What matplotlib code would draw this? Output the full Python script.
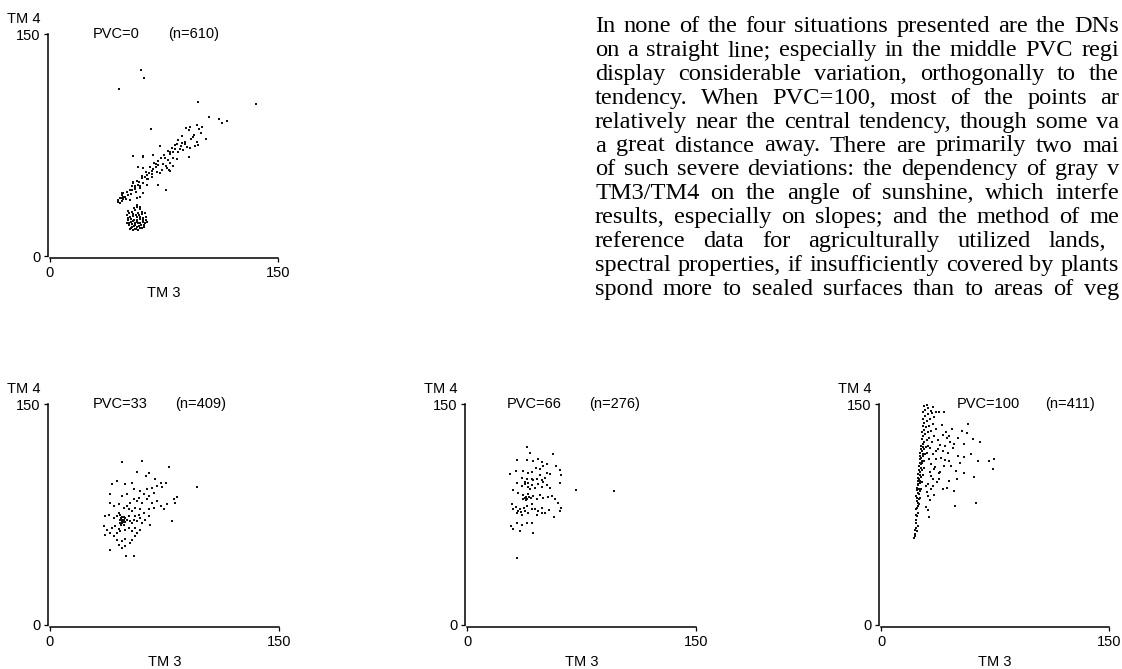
import matplotlib
matplotlib.use('Agg')
import matplotlib.pyplot as plt

# DN pairs (TM3, TM4)
pvc0_pts = [
    (59.9, 125.7), (61.8, 120.5), (45.6, 112.6), (97.6, 104.3), (135.5, 102.7), (104.8, 94.1),
    (111.4, 92.6), (113.4, 90.1), (116.2, 91.4), (66.4, 85.6),
    (96.5, 88.3), (89.5, 86.7), (92.1, 87.4), (91.2, 85.1), (99.3, 83.3), (102.4, 79.3), (94.3, 80.6),
    (84.4, 78.4), (86.6, 76.6), (88.8, 77.2), (83.3, 75.7), (96.5, 77.2), (97.6, 75.0), (95.4, 74.3),
    (92.1, 72.8), (90.3, 73.4), (87.7, 71.6), (85.5, 72.1), (72.4, 74.3), (80.0, 72.8), (81.1, 70.5),
    (78.9, 70.5), (77.8, 71.2), (82.2, 72.1), (91.6, 67.1), (54.4, 67.6), (61.4, 67.1), (68.0, 68.2),
    (75.7, 66.0), (77.8, 64.9), (81.1, 66.0), (83.8, 65.3), (78.9, 62.6), (76.3, 60.8), (74.1, 62.2),
    (81.1, 60.8), (77.2, 59.2), (78.5, 58.1), (71.3, 61.5), (69.7, 59.9), (68.0, 58.6), (70.2, 57.0),
    (66.9, 55.4), (65.3, 56.3), (64.0, 54.7), (72.4, 55.9), (73.5, 58.1), (58.1, 60.3), (61.4, 59.2),
    (78.9, 57.6), (62.5, 53.6), (60.3, 52.5), (64.7, 51.8), (66.9, 53.6), (57.0, 50.9), (54.8, 49.1),
    (53.7, 47.3), (58.1, 48.0), (61.4, 49.1), (59.2, 45.7), (55.9, 45.0), (52.6, 44.6), (50.4, 43.4),
    (48.2, 42.8), (47.1, 41.2), (49.3, 40.1), (51.5, 41.2), (46.5, 39.0), (48.2, 38.3), (76.3, 44.6),
    (71.3, 48.0), (45.0, 37.8), (46.0, 39.0), (48.2, 40.1), (47.1, 42.3), (50.4, 43.5), (49.3, 40.1),
    (51.5, 41.2), (53.7, 44.6), (55.9, 46.8), (52.6, 37.8), (57.0, 39.0), (59.2, 40.1), (54.8, 50.2),
    (63.6, 48.0), (61.4, 42.3), (61.4, 67.8),
    (56.0, 47.5), (58.5, 50.0), (60.5, 54.0), (63.0, 57.0), (66.0, 60.0), (68.5, 63.0), (71.0, 64.0),
    (73.0, 66.0), (75.0, 68.5), (79.0, 69.0), (84.0, 70.0), (86.0, 74.0), (89.0, 75.5), (93.0, 79.0),
    (95.0, 82.0), (98.0, 85.5), (100.0, 87.0), (87.0, 81.0), (82.0, 75.0), (70.0, 62.0), (67.0, 57.5),
    (63.5, 52.0), (59.5, 47.0), (56.5, 43.5), (53.0, 42.0), (50.0, 38.5), (47.5, 37.2), (44.5, 36.5),
    (46.0, 35.8),
    (57.0, 34.5), (59.2, 32.9), (51.5, 30.6), (53.7, 30.0), (55.9, 31.1), (58.1, 29.3), (60.3, 30.0),
    (62.5, 28.8), (50.4, 27.7), (52.6, 26.6), (54.8, 27.0), (57.0, 26.1), (59.2, 26.6), (61.4, 25.5),
    (63.2, 24.3), (51.5, 24.3), (53.1, 23.2), (54.4, 23.9), (55.9, 22.5), (57.5, 23.2), (59.2, 22.5),
    (61.0, 23.2), (62.5, 22.1), (52.2, 20.9), (53.7, 19.8), (55.3, 20.3), (57.0, 19.4), (58.8, 20.3),
    (60.3, 18.9), (61.8, 19.8), (52.6, 18.0), (54.4, 17.6), (55.9, 18.5), (58.1, 17.6), (63.6, 23.2),
    (50.4, 22.5), (53.0, 25.0), (55.0, 24.5), (57.0, 24.0), (59.0, 25.0), (61.0, 26.0), (56.0, 21.0),
    (58.0, 22.0), (60.0, 21.0), (54.0, 21.5), (52.0, 22.5), (62.0, 21.0), (56.5, 27.5), (58.5, 28.0),
    (54.5, 28.5), (60.5, 28.5), (52.0, 29.0), (57.5, 33.0), (55.0, 32.5), (59.5, 31.5), (53.5, 19.0),
    (56.5, 18.5), (59.5, 19.0), (61.5, 24.5), (63.0, 26.5), (51.0, 25.5),
]

pvc33_pts = [
    (47.1, 110.7), (60.3, 111.4), (77.9, 107.3), (57.0, 103.9), (63.2, 101.1), (64.7, 102.9), (69.1, 99.3),
    (72.4, 96.6), (75.7, 96.1), (73.5, 93.9), (70.2, 94.3), (40.6, 95.5), (43.9, 97.7), (49.3, 95.5),
    (53.7, 96.6), (96.0, 93.9), (54.8, 92.0), (59.2, 90.9), (63.6, 92.0), (66.9, 93.2), (39.5, 88.6),
    (47.1, 87.5), (50.4, 88.6), (61.4, 88.6), (64.7, 87.5), (68.0, 89.8), (83.3, 87.0), (82.2, 83.0),
    (81.1, 85.2), (54.8, 85.2), (57.0, 84.1), (60.3, 83.0), (58.1, 86.4), (52.6, 83.0), (63.6, 85.2),
    (66.9, 83.0), (70.2, 84.1), (72.4, 80.7), (68.0, 79.5), (64.7, 78.4), (76.8, 81.8), (74.6, 78.4),
    (80.0, 70.9), (39.5, 83.0), (41.7, 80.7), (45.0, 81.8), (48.2, 79.5), (50.4, 80.7), (51.5, 78.4),
    (53.7, 77.3), (55.9, 79.5), (59.2, 78.4), (61.4, 76.1), (36.2, 73.9), (38.4, 75.0), (41.7, 72.7),
    (43.9, 73.9), (46.1, 75.0), (45.0, 76.1), (46.5, 72.7), (47.8, 71.6), (48.7, 73.4), (47.1, 70.5),
    (49.3, 69.8), (48.2, 68.2), (46.1, 69.3), (50.4, 71.6), (51.5, 73.9), (52.6, 70.5), (53.7, 68.9),
    (54.8, 71.6), (55.9, 73.9), (57.0, 70.5), (58.1, 75.0), (59.2, 72.7), (60.3, 69.3), (62.5, 71.6),
    (64.7, 73.9), (65.8, 68.2), (35.1, 67.0), (37.3, 64.8), (40.6, 65.9), (42.8, 67.5), (45.0, 65.2),
    (39.5, 62.5), (36.2, 61.4), (41.7, 60.2), (43.9, 62.5), (46.1, 63.6), (49.3, 64.8), (51.5, 65.9),
    (53.7, 63.6), (55.9, 65.9), (57.0, 62.5), (59.2, 64.8), (43.9, 58.0), (47.1, 56.8), (49.3, 58.4),
    (52.6, 55.7), (45.0, 54.5), (49.3, 53.4), (47.1, 52.3), (39.5, 51.1), (53.7, 58.0), (55.9, 60.2),
    (50.0, 47.0), (54.8, 47.0), (46.8, 72.0), (48.0, 69.8), (47.4, 68.9), (45.6, 71.1), (49.1, 72.3),
    (46.3, 68.2), (47.5, 70.8), (48.5, 71.0), (46.9, 73.0),
]

pvc66_pts = [
    (39.1, 120.9), (41.3, 117.0), (56.1, 116.4), (33.0, 112.0), (39.1, 112.0), (43.4, 111.4), (46.7, 112.5),
    (48.9, 110.7), (52.2, 109.1), (45.2, 106.8), (47.8, 105.7), (50.0, 108.0), (58.3, 108.0), (28.2, 102.3),
    (32.1, 104.5), (36.9, 104.5), (40.2, 103.4), (42.4, 103.9), (52.2, 103.4), (54.4, 102.3), (60.9, 105.2),
    (61.4, 101.6), (35.8, 100.0), (39.1, 98.9), (42.4, 99.3), (45.6, 98.9), (48.9, 98.4), (51.1, 100.0),
    (47.8, 101.8), (50.0, 97.0), (32.5, 96.6), (35.8, 94.3), (38.0, 95.5), (40.2, 93.9), (42.4, 94.8),
    (44.5, 93.2), (46.7, 95.5), (48.9, 93.9), (52.2, 94.8), (54.4, 93.2), (60.9, 96.6), (71.2, 91.6),
    (96.3, 90.9), (30.3, 91.6), (33.6, 89.3), (36.9, 88.0), (38.6, 87.0), (40.2, 88.6), (41.7, 86.4),
    (43.4, 87.5), (45.6, 85.7), (47.8, 88.0), (50.0, 86.4), (53.3, 87.0), (55.5, 87.5), (57.6, 85.2),
    (59.8, 83.0), (29.3, 81.8), (32.1, 80.2), (34.7, 78.4), (37.3, 79.5), (39.5, 80.7), (42.4, 81.8),
    (44.5, 78.9), (46.7, 77.3), (48.9, 79.5), (51.1, 76.1), (54.0, 77.9), (61.4, 79.5), (60.9, 77.7),
    (30.3, 78.4), (32.5, 76.1), (35.8, 75.0), (38.0, 77.3), (40.2, 76.1), (42.4, 78.4), (45.6, 75.0),
    (48.9, 76.1), (57.0, 73.4), (28.6, 67.5), (32.5, 68.9), (35.8, 68.2), (39.1, 68.9), (42.4, 68.9),
    (30.3, 65.2), (34.7, 63.6), (43.0, 62.5), (33.0, 45.5), (38.0, 86.4), (39.5, 85.7), (40.8, 87.0),
    (38.6, 84.8), (36.9, 85.7), (41.3, 92.0), (40.2, 96.6), (43.4, 98.4), (38.0, 97.0), (33.6, 77.3),
    (35.2, 77.0),
]

pvc100_pts = [
    (21.9, 59.3), (22.6, 61.6), (23.6, 63.9), (22.3, 60.5), (23.2, 66.1), (24.1, 67.0), (22.8, 71.6),
    (23.6, 73.9), (24.5, 76.1), (23.0, 78.4), (24.1, 80.7), (25.2, 81.8), (23.6, 84.1), (24.7, 85.2),
    (25.8, 86.4), (23.2, 87.5), (24.1, 89.8), (25.4, 90.9), (26.3, 92.0), (23.6, 93.2), (24.5, 94.8),
    (25.8, 96.1), (27.2, 97.0), (24.1, 97.7), (25.2, 99.3), (26.3, 100.7), (27.6, 101.6), (24.5, 102.3),
    (25.6, 103.9), (26.7, 105.2), (28.0, 106.8), (25.0, 108.0), (26.1, 109.1), (27.2, 110.2), (28.5, 111.4),
    (25.4, 112.5), (26.5, 113.6), (27.6, 114.8), (28.9, 115.9), (25.8, 117.0), (26.9, 118.2), (28.0, 119.3),
    (29.6, 120.5), (30.7, 121.6), (26.3, 121.6), (27.4, 122.7), (28.5, 124.3), (30.0, 125.7), (31.7, 126.6),
    (26.7, 126.1), (27.8, 128.0), (28.9, 129.5), (30.7, 130.7), (32.8, 131.8), (27.2, 130.7), (28.2, 132.5),
    (29.6, 134.1), (31.7, 135.2), (33.9, 136.4), (27.4, 135.2), (28.5, 137.0), (30.2, 138.6), (32.4, 139.8),
    (35.0, 140.9), (27.6, 139.8), (28.9, 141.6), (30.7, 143.2), (33.3, 143.9), (36.1, 144.3), (27.6, 144.3),
    (28.9, 146.1), (31.1, 147.0), (33.9, 147.7), (28.0, 148.4), (30.2, 149.3), (32.8, 145.5), (38.3, 144.8),
    (41.2, 144.8), (22.3, 64.8), (23.0, 69.3), (22.8, 75.0), (23.4, 79.5), (24.3, 83.0), (23.9, 86.4),
    (24.8, 88.6), (23.4, 91.6), (25.0, 92.5), (24.3, 95.5), (25.6, 97.7), (24.5, 100.0), (25.8, 101.6),
    (25.0, 105.2), (26.5, 106.8), (25.4, 110.2), (26.9, 111.4), (25.9, 114.8), (27.4, 116.4), (26.5, 119.3),
    (27.8, 120.9),
    (57.1, 136.4), (53.6, 131.8), (56.9, 130.2), (60.2, 126.1), (65.3, 124.3), (48.2, 122.7), (54.3, 122.7),
    (44.9, 128.4), (43.4, 126.6), (40.5, 128.9), (42.3, 121.6), (37.2, 119.3), (40.5, 118.2), (44.2, 117.0),
    (47.1, 119.8), (44.9, 111.4), (39.4, 113.6), (36.1, 112.5), (41.6, 108.0), (50.4, 114.8), (54.7, 114.3),
    (59.1, 115.9), (63.5, 111.4), (71.2, 111.4), (74.4, 112.5), (73.4, 106.1), (60.9, 100.7), (54.7, 103.4),
    (49.5, 104.5), (49.9, 98.9), (44.9, 97.7), (38.3, 98.9), (43.4, 93.2), (48.2, 90.9), (48.6, 80.7),
    (62.8, 82.5), (31.7, 73.4), (35.0, 105.7), (32.8, 101.1), (29.6, 94.3), (30.7, 87.5), (33.9, 94.3),
    (33.3, 124.3), (35.0, 128.0), (37.2, 125.7), (34.0, 116.0), (36.5, 118.0), (38.5, 122.0), (31.5, 113.0),
    (33.0, 109.0), (35.5, 107.0), (39.0, 104.0), (32.0, 104.0), (34.5, 99.0), (37.0, 97.0), (31.0, 96.0),
    (33.0, 92.0), (30.0, 90.0), (32.0, 85.0), (35.0, 88.0), (29.5, 80.0), (31.0, 78.0), (38.0, 103.0),
    (42.0, 112.0), (46.0, 108.0), (30.5, 117.0), (32.0, 120.0), (36.5, 133.0), (40.0, 136.0), (42.5, 131.0),
    (45.5, 124.0), (50.5, 127.0), (47.0, 133.0), (52.0, 110.0), (40.5, 92.5),
]

pvc_labels = ['PVC=0', 'PVC=33', 'PVC=66', 'PVC=100']
n_labels = ['(n=610)', '(n=409)', '(n=276)', '(n=411)']

# the scanned page cuts these lines at its right edge
body_lines = [
    "In none of the four situations presented are the DNs",
    "on a straight line; especially in the middle PVC regi",
    "display considerable variation, orthogonally to the",
    "tendency. When PVC=100, most of the points ar",
    "relatively near the central tendency, though some va",
    "a great distance away. There are primarily two mai",
    "of such severe deviations: the dependency of gray v",
    "TM3/TM4 on the angle of sunshine, which interfe",
    "results, especially on slopes; and the method of me",
    "reference data for agriculturally utilized lands,",
    "spectral properties, if insufficiently covered by plants",
    "spond more to sealed surfaces than to areas of veg",
]

W, H = 1122, 669
fig = plt.figure(figsize=(W / 100, H / 100), dpi=100)
fig.patch.set_facecolor('white')

# pixel boxes of the plot areas: x at 0, x at 150, y at 150, y at 0
boxes = [(50, 278, 34, 256), (50, 279, 404, 625), (467, 696, 404, 625), (881, 1109, 404, 625)]
label_x = [(28, 78), (28, 82), (26, 80), (50, 108)]
sans = 'Liberation Sans'

for pts, pvc, nn, box, lx in zip([pvc0_pts, pvc33_pts, pvc66_pts, pvc100_pts],
                                 pvc_labels, n_labels, boxes, label_x):
    x0, x1, yt, yb = box
    ax = fig.add_axes([x0 / W, 1 - yb / H, (x1 - x0) / W, (yb - yt) / H])
    ax.scatter([p[0] for p in pts], [p[1] for p in pts], s=1.5, marker='s', c='#111111',
               linewidths=0, clip_on=False)
    ax.set_xlim(0, 150)
    ax.set_ylim(0, 150)
    ax.set_xticks([0, 150])
    ax.set_yticks([0, 150])
    for s in ['top', 'right']:
        ax.spines[s].set_visible(False)
    for s in ['left', 'bottom']:
        ax.spines[s].set_position(('outward', 1.5))
        ax.spines[s].set_linewidth(1.1)
    ax.tick_params(length=3, width=0.9, labelsize=10.5, pad=2.5)
    for t in ax.get_xticklabels() + ax.get_yticklabels():
        t.set_family(sans)
    ax.set_facecolor('none')
    ax.text(lx[0], 150, pvc, fontsize=10.5, family=sans, va='center')
    ax.text(lx[1], 150, nn, fontsize=10.5, family=sans, va='center')
    fig.text((x0 - 43) / W, 1 - (yt - 15) / H, 'TM 4', fontsize=10.5, family=sans, va='center')
    fig.text((x0 + x1) / 2 / W, 1 - (yb + 37) / H, 'TM 3', fontsize=10.5, family=sans,
             va='center', ha='center')

# justified body text
renderer = fig.canvas.get_renderer()
text_x = 595
line_ends = [1119] * len(body_lines)
line_ends[9] = 1106
for i, line in enumerate(body_lines):
    words = line.split()
    yb = 1 - (32 + 23.9 * i) / H
    objs = [fig.text(0, yb, w, fontsize=17.6, family='Liberation Serif', va='baseline')
            for w in words]
    widths = [o.get_window_extent(renderer).width for o in objs]
    gap = max((line_ends[i] - text_x - sum(widths)) / (len(words) - 1), 3.5)
    x = text_x
    for o, w in zip(objs, widths):
        o.set_x(x / W)
        x += w + gap

fig.savefig('out.png', dpi=100, facecolor='white')
